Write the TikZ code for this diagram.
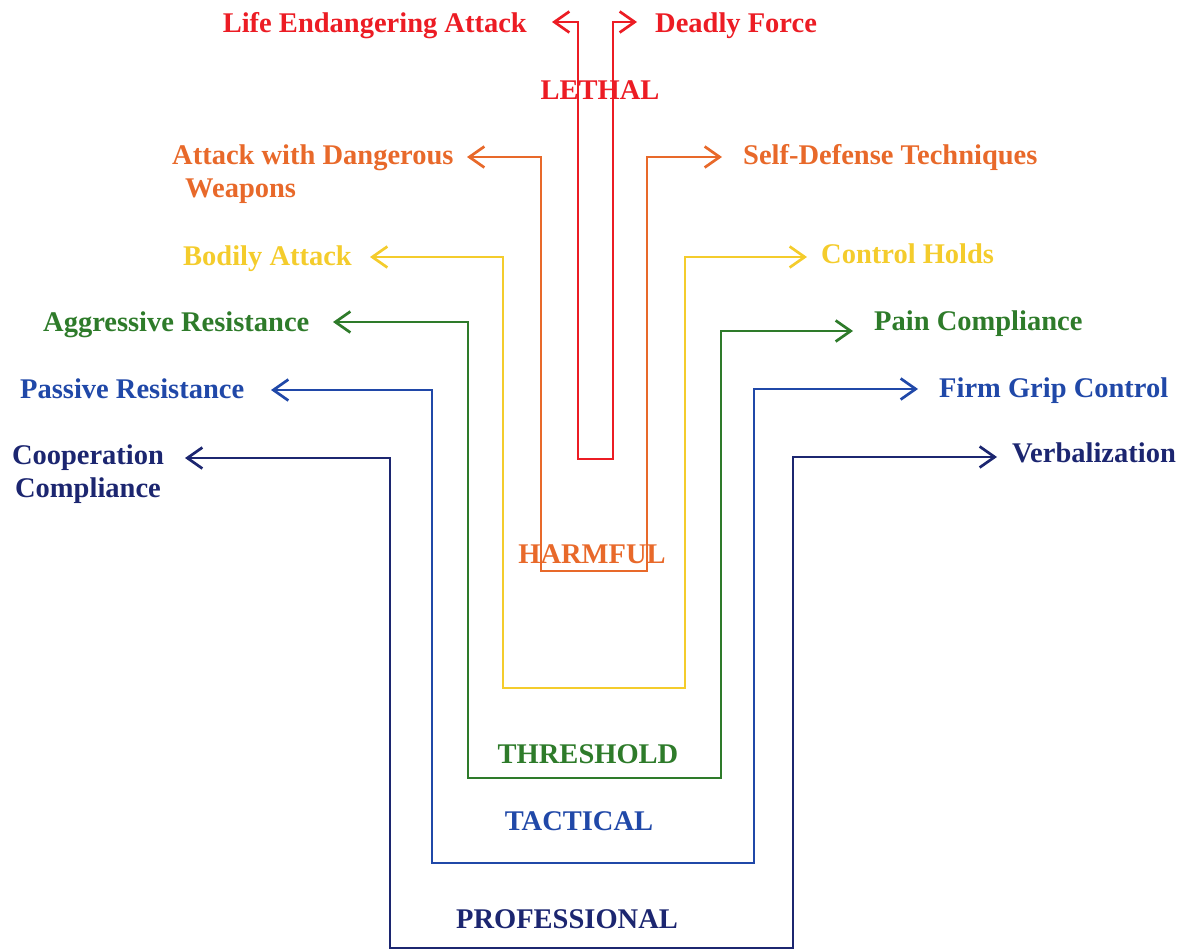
\documentclass[tikz,border=0pt]{standalone}
\usepackage{fontspec}
\setmainfont{Liberation Serif}
\usetikzlibrary{arrows.meta}
\definecolor{cRed}{HTML}{EC1C24}
\definecolor{cOrange}{HTML}{E8692A}
\definecolor{cYellow}{HTML}{F4CC2C}
\definecolor{cGreen}{HTML}{2E7B2A}
\definecolor{cBlue}{HTML}{2048A8}
\definecolor{cNavy}{HTML}{1C2670}
\tikzset{
  lbl/.style={inner sep=0pt, font=\fontsize{28.5}{33}\selectfont\bfseries},
  conn/.style={line width=2.7pt, line join=miter, {Straight Barb[length=15pt,width=21pt]}-{Straight Barb[length=15pt,width=21pt]}}
}
\begin{document}
\begin{tikzpicture}[x=1pt,y=-1pt]
\useasboundingbox (0,0) rectangle (1188,951);
% labels
\node[lbl, text=cRed, anchor=base east] (lea) at (527,32) {Life Endangering Attack};
\node[lbl, text=cRed, anchor=base west] (df) at (655,32) {Deadly Force};
\node[lbl, text=cOrange, anchor=north west, align=left] (awd) at (172,145) {Attack with Dangerous\\\hspace{13pt}Weapons};
\node[lbl, text=cOrange, anchor=base west] (sdt) at (743,164) {Self-Defense Techniques};
\node[lbl, text=cYellow, anchor=base west] (ba) at (183,265) {Bodily Attack};
\node[lbl, text=cYellow, anchor=base west] (ch) at (821,263) {Control Holds};
\node[lbl, text=cGreen, anchor=base west] (ar) at (43,331) {Aggressive Resistance};
\node[lbl, text=cGreen, anchor=base west] (pc) at (874,330) {Pain Compliance};
\node[lbl, text=cBlue, anchor=base west] (pr) at (20,398) {Passive Resistance};
\node[lbl, text=cBlue, anchor=base west] (fgc) at (939,397) {Firm Grip Control};
\node[lbl, text=cNavy, anchor=north, align=center] (cc) at (88,445) {Cooperation\\Compliance};
\node[lbl, text=cNavy, anchor=base west] (vb) at (1012,462) {Verbalization};
% arrow ends
\coordinate (rL) at (552,22);  \coordinate (rR) at (637,22);
\coordinate (oL) at (467,157); \coordinate (oR) at (722,157);
\coordinate (yL) at (370,257); \coordinate (yR) at (807,257);
\coordinate (gL) at (333,322); \coordinate (gR) at (853,331);
\coordinate (bL) at (271,390); \coordinate (bR) at (918,389);
\coordinate (nL) at (185,458); \coordinate (nR) at (997,457);
% connectors
\draw[conn, cRed] (rL) -| (578,459) -| (613,22) -- (rR);
\draw[conn, cOrange] (oL) -| (541,571) -| (647,157) -- (oR);
\draw[conn, cYellow] (yL) -| (503,688) -| (685,257) -- (yR);
\draw[conn, cGreen] (gL) -| (468,778) -| (721,331) -- (gR);
\draw[conn, cBlue] (bL) -| (432,863) -| (754,389) -- (bR);
\draw[conn, cNavy] (nL) -| (390,948) -| (793,457) -- (nR);
% level labels
\node[lbl, text=cRed, anchor=base] (lethal) at (600,99) {LETHAL};
\node[lbl, text=cOrange, anchor=base] (harmful) at (592,563) {HARMFUL};
\node[lbl, text=cGreen, anchor=base] (thr) at (588,763) {THRESHOLD};
\node[lbl, text=cBlue, anchor=base] (tac) at (579,830) {TACTICAL};
\node[lbl, text=cNavy, anchor=base] (prof) at (567,928) {PROFESSIONAL};
\end{tikzpicture}
\end{document}
